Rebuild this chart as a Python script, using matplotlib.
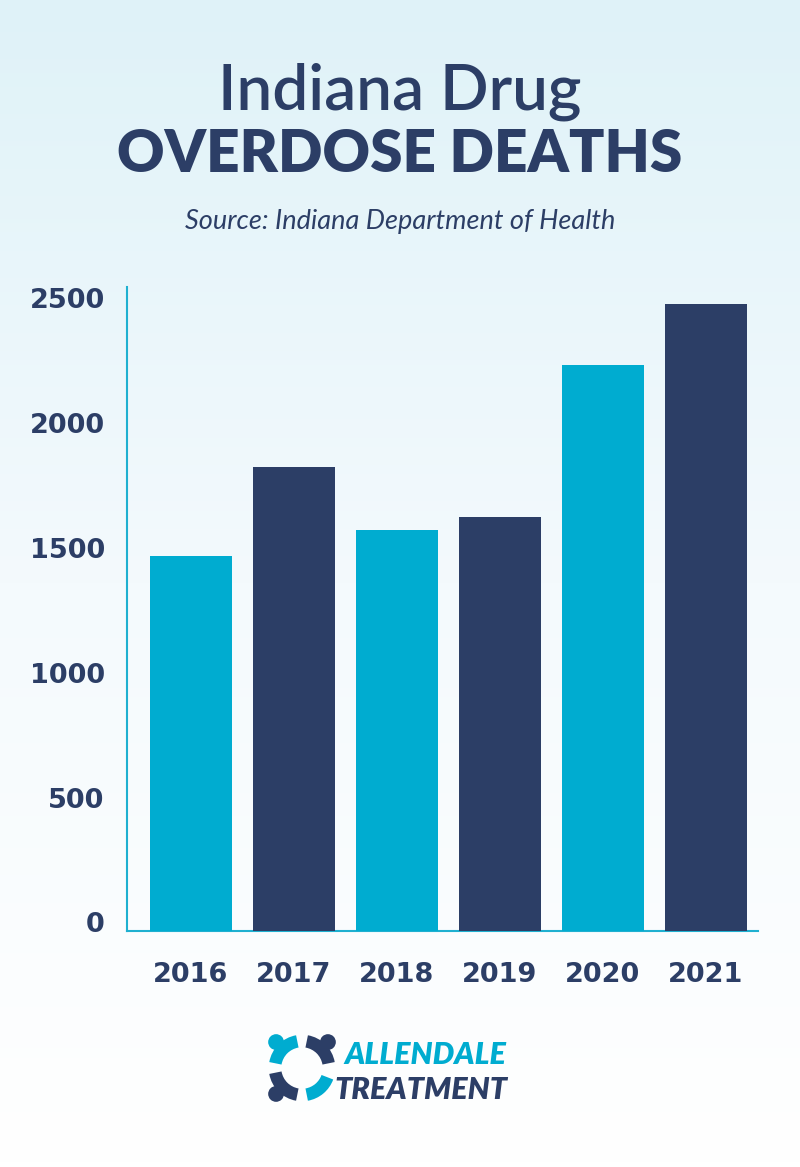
import numpy as np
import matplotlib
matplotlib.use("Agg")
import matplotlib.pyplot as plt
from matplotlib.transforms import ScaledTranslation
from matplotlib.patches import Arc, Circle
from matplotlib.colors import LinearSegmentedColormap

years = ["2016", "2017", "2018", "2019", "2020", "2021"]
deaths = [1497, 1855, 1602, 1653, 2262, 2505]
yticks = [0, 500, 1000, 1500, 2000, 2500]

cyan = "#00acd0"
navy = "#2c3e66"
colors = [cyan, navy, cyan, navy, cyan, navy]

fig = plt.figure(figsize=(8, 11.67), dpi=100)

# background gradient
bg = fig.add_axes([0, 0, 1, 1], zorder=-10)
grad = np.linspace(0, 1, 256).reshape(-1, 1)
cmap = LinearSegmentedColormap.from_list("bg", ["#dff2f8", "#f4fafd", "#ffffff"])
bg.imshow(grad, aspect="auto", cmap=cmap, extent=[0, 1, 0, 1], origin="upper")
bg.axis("off")

# titles
fig.text(0.5, 1 - 92 / 1167, "Indiana Drug", ha="center", va="center",
         fontsize=46, color=navy, family="Lato", fontweight="semibold")
fig.text(0.5, 1 - 155 / 1167, "OVERDOSE DEATHS", ha="center", va="center",
         fontsize=42, color=navy, family="Lato", fontweight="heavy")
fig.text(0.5, 1 - 221 / 1167, "Source: Indiana Department of Health", ha="center", va="center",
         fontsize=19.5, color=navy, family="Lato", style="italic")

# chart
ax = fig.add_axes([127 / 800, 1 - 930.5 / 1167, 631 / 800, 643.5 / 1167])
ax.patch.set_alpha(0)
x = np.arange(len(years))
ax.bar(x, deaths, width=0.8, color=colors, zorder=3)
ax.set_xlim(-0.621, 5.505)
ax.set_ylim(0, 2574)
for s in ["top", "right"]:
    ax.spines[s].set_visible(False)
for s in ["left", "bottom"]:
    ax.spines[s].set_color("#1fb0d0")
    ax.spines[s].set_linewidth(1.5)
ax.set_xticks(x)
ax.set_xticklabels(years)
ax.set_yticks(yticks)
ax.set_yticklabels([str(v) for v in yticks])
ax.tick_params(length=0)
ax.tick_params(axis="x", pad=23)
ax.tick_params(axis="y", pad=16)
for lab in ax.get_xticklabels() + ax.get_yticklabels():
    lab.set_fontsize(19.5)
    lab.set_fontweight("bold")
    lab.set_family("DejaVu Sans")
    lab.set_color(navy)
offset = ScaledTranslation(0, 8 / 100, fig.dpi_scale_trans)
for lab in ax.get_yticklabels():
    lab.set_transform(lab.get_transform() + offset)

# logo
lg = fig.add_axes([266 / 800, 1 - 1104 / 1167, 72 / 800, 72 / 1167])
lg.set_xlim(-1, 1)
lg.set_ylim(-1, 1)
lg.set_aspect("equal")
lg.axis("off")
lg.add_patch(Arc((0, 0), 1.5, 1.5, theta1=100, theta2=170, color=cyan, lw=9))
lg.add_patch(Arc((0, 0), 1.5, 1.5, theta1=10, theta2=80, color=navy, lw=9))
lg.add_patch(Arc((0, 0), 1.5, 1.5, theta1=190, theta2=260, color=navy, lw=9))
lg.add_patch(Arc((0, 0), 1.5, 1.5, theta1=280, theta2=340, color=cyan, lw=9))
lg.add_patch(Circle((-0.72, 0.72), 0.2, color=cyan))
lg.add_patch(Circle((0.72, 0.72), 0.2, color=navy))
lg.add_patch(Circle((-0.72, -0.72), 0.2, color=navy))
fig.text(344 / 800, 1 - 1055 / 1167, "ALLENDALE", ha="left", va="center",
         fontsize=22, color=cyan, family="Lato", fontweight="heavy", style="italic")
fig.text(334 / 800, 1 - 1090 / 1167, "TREATMENT", ha="left", va="center",
         fontsize=22, color=navy, family="Lato", fontweight="heavy", style="italic")

fig.savefig("out.png", dpi=100)
